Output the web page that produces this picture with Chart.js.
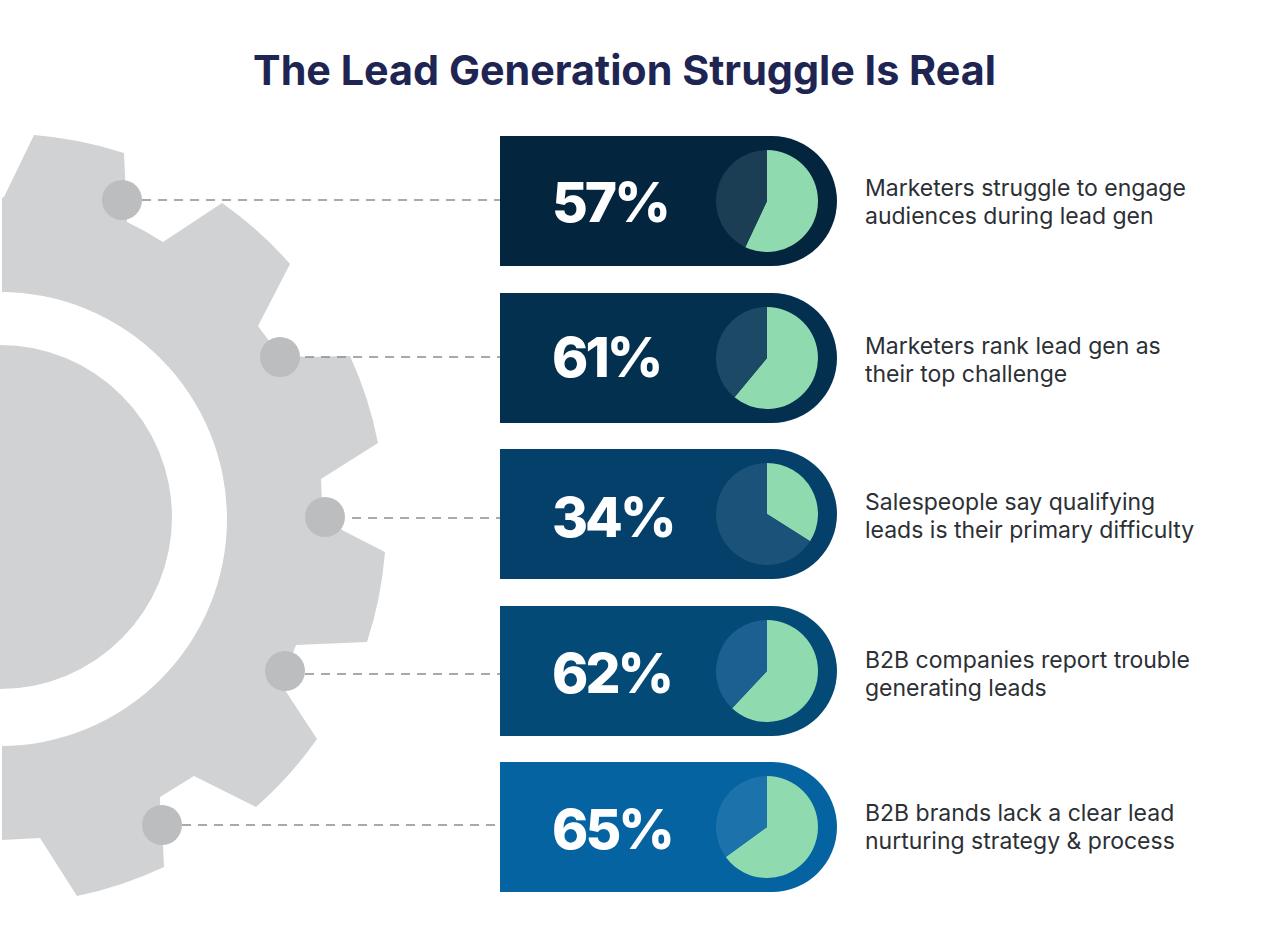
<!DOCTYPE html>
<html>
<head>
<meta charset="utf-8">
<title>The Lead Generation Struggle Is Real</title>
<script src="https://cdn.jsdelivr.net/npm/chart.js@4"></script>
<style>
  html, body { margin: 0; padding: 0; background: #fff; }
  #page { position: relative; width: 1280px; height: 934px; overflow: hidden; font-family: Inter, sans-serif; }
  #gear { position: absolute; left: 0; top: 0; }
  h1 { position: absolute; left: 0; top: 45px; width: 1249px; margin: 0; text-align: center; font-size: 41.3px; line-height: 50px; font-weight: 700; color: #1f2553; }
  .pill { position: absolute; left: 500px; width: 337px; height: 129.5px; border-radius: 0 65px 65px 0; }
  .pct { position: absolute; left: 52px; font-size: 55px; line-height: 70px; font-weight: 800; letter-spacing: -3px; color: #fff; }
  .pill canvas { position: absolute; left: 216px; top: 14px; }
  .desc { position: absolute; left: 865px; font-size: 23px; line-height: 28px; color: #2c3035; white-space: nowrap; }
</style>
</head>
<body>
<div id="page">
  <svg id="gear" width="500" height="934">
    <path fill="#d1d2d4" d="M2 198 L4 197 L34 135 A385 385 0 0 1 124 153 L127 222 A322 322 0 0 1 163 242 L222 203 A385 385 0 0 1 290 264 L258 326 L278 353 L305 357 L350 356 A385 385 0 0 1 378 443 L321 479 L322 503 L342 530 L385 552 A385 385 0 0 1 367 642 L296 645 L293 653 L285 690 L317 739 A385 385 0 0 1 256 807 L194 776 L160 797 L160 807 L163 845 L164 867 A385 385 0 0 1 77 896 L40 838 L2 840 Z"/>
    <circle cx="0" cy="519" r="227" fill="#fff"/>
    <circle cx="0" cy="517" r="172" fill="#d1d2d4"/>
    <g id="links" stroke="#8e8f91" stroke-width="1.4" stroke-dasharray="9 7"></g>
    <g id="nodes" fill="#bcbdbf"></g>
  </svg>
  <h1>The Lead Generation Struggle Is Real</h1>
</div>
<script>
const categories = [
  ['Marketers struggle to engage', 'audiences during lead gen'],
  ['Marketers rank lead gen as', 'their top challenge'],
  ['Salespeople say qualifying', 'leads is their primary difficulty'],
  ['B2B companies report trouble', 'generating leads'],
  ['B2B brands lack a clear lead', 'nurturing strategy & process'],
];
const percentages = [57, 61, 34, 62, 65];

const pillColors = ['#03263e', '#03304f', '#04406a', '#044a77', '#0563a1'];
const restColors = ['#1b3e55', '#1c4a66', '#1b5279', '#1b6090', '#1c72aa'];
const sliceColor = '#8fdaae';

const pillTops = [136, 293, 449, 606, 762];
const descTops = [174, 332, 488, 646, 799];
const pctOffsets = [31, 29, 33, 32, 32];
const nodes = [[122, 200], [280, 357], [325, 517], [285, 671], [162, 825]];
const linkStarts = [142, 305, 352, 305, 182];
const linkYs = [200, 357, 518, 674, 825];

const page = document.getElementById('page');
const svgNS = 'http://www.w3.org/2000/svg';

nodes.forEach(([cx, cy], i) => {
  const dot = document.createElementNS(svgNS, 'circle');
  dot.setAttribute('cx', cx);
  dot.setAttribute('cy', cy);
  dot.setAttribute('r', 20);
  document.getElementById('nodes').appendChild(dot);

  const link = document.createElementNS(svgNS, 'line');
  link.setAttribute('x1', linkStarts[i]);
  link.setAttribute('x2', 500);
  link.setAttribute('y1', linkYs[i]);
  link.setAttribute('y2', linkYs[i]);
  document.getElementById('links').appendChild(link);
});

percentages.forEach((value, i) => {
  const pill = document.createElement('div');
  pill.className = 'pill';
  pill.style.top = pillTops[i] + 'px';
  pill.style.background = pillColors[i];

  const pct = document.createElement('div');
  pct.className = 'pct';
  pct.style.top = pctOffsets[i] + 'px';
  pct.textContent = value + '%';
  pill.appendChild(pct);

  const canvas = document.createElement('canvas');
  canvas.width = 102;
  canvas.height = 102;
  canvas.style.width = '102px';
  canvas.style.height = '102px';
  pill.appendChild(canvas);
  page.appendChild(pill);

  const desc = document.createElement('div');
  desc.className = 'desc';
  desc.style.top = descTops[i] + 'px';
  desc.innerHTML = categories[i].map(t => t.replace('&', '&amp;')).join('<br>');
  page.appendChild(desc);

  new Chart(canvas.getContext('2d'), {
    type: 'pie',
    data: {
      labels: ['Share', 'Rest'],
      datasets: [{
        data: [value, 100 - value],
        backgroundColor: [sliceColor, restColors[i]],
        borderWidth: 0,
      }],
    },
    options: {
      responsive: false,
      animation: false,
      events: [],
      plugins: {
        legend: { display: false },
        tooltip: { enabled: false },
      },
    },
  });
});
</script>
</body>
</html>
